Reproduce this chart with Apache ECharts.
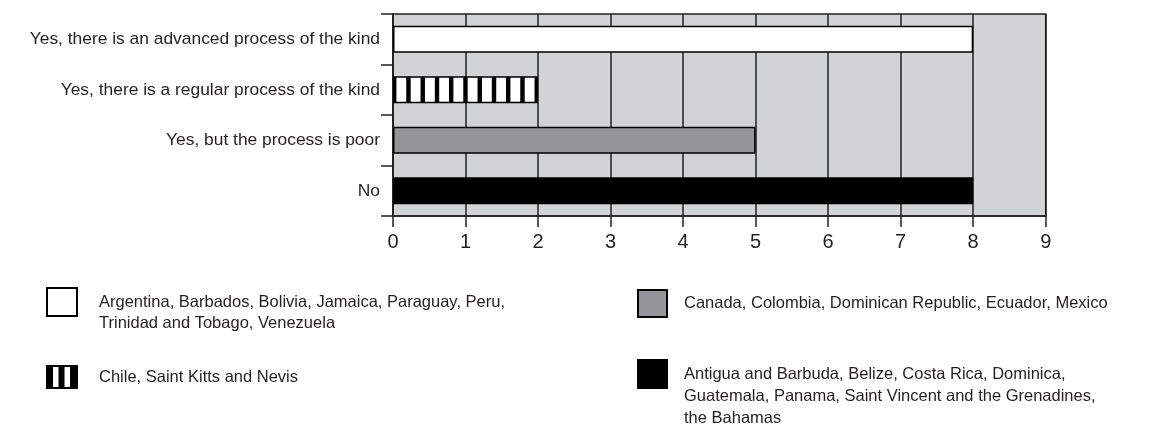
<!DOCTYPE html>
<html>
<head>
<meta charset="utf-8">
<script src="https://cdn.jsdelivr.net/npm/echarts@6/dist/echarts.min.js"></script>
<style>
html,body{margin:0;padding:0;background:#fff;}
#c{width:1153px;height:431px;}
</style>
</head>
<body>
<div id="c"></div>
<script>
// Data
const categories = [
  'Yes, there is an advanced process of the kind',
  'Yes, there is a regular process of the kind',
  'Yes, but the process is poor',
  'No'
];
const seriesNames = [
  'Argentina, Barbados, Bolivia, Jamaica, Paraguay, Peru,\nTrinidad and Tobago, Venezuela',
  'Chile, Saint Kitts and Nevis',
  'Canada, Colombia, Dominican Republic, Ecuador, Mexico',
  'Antigua and Barbuda, Belize, Costa Rica, Dominica,\nGuatemala, Panama, Saint Vincent and the Grenadines,\nthe Bahamas'
];
const advancedValues = [8, '-', '-', '-'];
const regularValues = ['-', 2, '-', '-'];
const poorValues = ['-', '-', 5, '-'];
const noValues = ['-', '-', '-', 8];
const xTicks = [0, 1, 2, 3, 4, 5, 6, 7, 8, 9];

const FONT = "'Liberation Sans Narrow', 'Arial Narrow', 'Liberation Sans', sans-serif";
const GRID_LEFT = 393, GRID_TOP = 14, GRID_W = 652.7, GRID_H = 202;

function stripeCanvas(period, black) {
  const n = 4;
  const c = document.createElement('canvas');
  c.width = Math.round(period * n);
  c.height = 4;
  const ctx = c.getContext('2d');
  ctx.fillStyle = '#fff';
  ctx.fillRect(0, 0, c.width, c.height);
  ctx.fillStyle = '#000';
  for (let i = 0; i < n; i++) ctx.fillRect(i * period, 0, black, c.height);
  return c;
}
const barPattern = { image: stripeCanvas(14.27, 4.4), repeat: 'repeat', x: GRID_LEFT - 1, y: 0 };
const iconPattern = { image: stripeCanvas(11.5, 6), repeat: 'repeat', x: 0, y: 0 };

const fills = ['#ffffff', barPattern, '#939598', '#000000'];
const valueSets = [advancedValues, regularValues, poorValues, noValues];

const series = valueSets.map((vals, i) => ({
  name: seriesNames[i],
  type: 'bar',
  data: vals,
  barWidth: 27,
  barGap: '-100%',
  itemStyle: { color: fills[i], borderColor: '#000', borderWidth: 1.5 },
  emphasis: { disabled: true },
  silent: true,
  z: 3
}));

// legend text is top-aligned to the icon centre by prepending blank lines
function legendFor(i, left, iconTop, w, h, padLeft, lineH) {
  const n = seriesNames[i].split('\n').length;
  const total = 2 * n - 1;
  const above = Math.max(0, total * lineH / 2 - h / 2);
  return {
    data: [i === 1 ? { name: seriesNames[i], itemStyle: { color: iconPattern } } : seriesNames[i]],
    left: left, top: iconTop - above, padding: 0,
    orient: 'vertical',
    icon: 'rect',
    itemWidth: w, itemHeight: h,
    selectedMode: false,
    formatter: name => '\n'.repeat(n - 1) + name,
    textStyle: {
      fontFamily: FONT, fontSize: 16.5, color: '#231f20',
      lineHeight: lineH,
      padding: [0, 0, 0, padLeft]
    }
  };
}

const chart = echarts.init(document.getElementById('c'), null, { renderer: 'canvas' });
chart.setOption({
  animation: false,
  backgroundColor: '#fff',
  grid: {
    left: GRID_LEFT, top: GRID_TOP, width: GRID_W, height: GRID_H,
    show: true, backgroundColor: '#d1d3d4', borderColor: '#231f20', borderWidth: 1.5,
    containLabel: false
  },
  legend: [
    legendFor(0, 46, 288, 30, 28, 17, 21),
    legendFor(1, 46, 365, 30, 22, 17, 21),
    legendFor(2, 637, 289, 29, 27, 12, 22),
    legendFor(3, 637, 360, 29, 28, 12, 22)
  ],
  xAxis: {
    type: 'value', min: 0, max: 9, interval: 1,
    axisLine: { show: true, lineStyle: { color: '#231f20', width: 1.5 } },
    axisTick: { show: true, length: 11, lineStyle: { color: '#231f20', width: 1.5 } },
    splitLine: { show: true, lineStyle: { color: '#231f20', width: 1.5 } },
    axisLabel: {
      fontFamily: FONT, fontSize: 20, color: '#231f20', margin: 16,
      formatter: v => (xTicks.indexOf(v) >= 0 ? String(v) : '')
    }
  },
  yAxis: {
    type: 'category', data: categories, inverse: true,
    axisLine: { show: true, lineStyle: { color: '#231f20', width: 1.5 } },
    axisTick: { show: true, length: 12, lineStyle: { color: '#231f20', width: 1.5 } },
    splitLine: { show: false },
    axisLabel: { fontFamily: FONT, fontSize: 17.4, color: '#231f20', margin: 13 }
  },
  series: series
});
</script>
</body>
</html>
